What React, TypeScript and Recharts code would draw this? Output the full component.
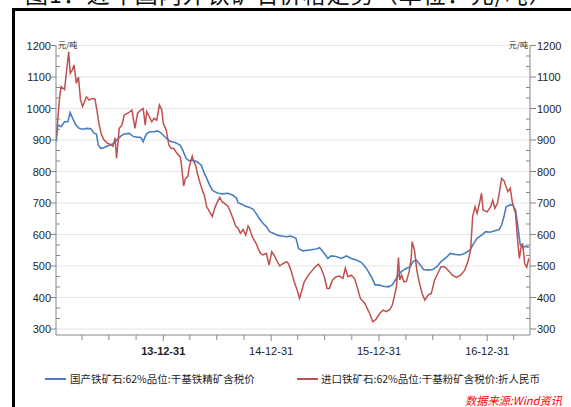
import React from 'react';
import { LineChart, Line, XAxis, YAxis, CartesianGrid } from 'recharts';

// 国产铁矿石:62%品位:干基铁精矿含税价 (元/吨)
const domesticDates = [
  '2013-01-03','2013-01-08','2013-01-19','2013-01-31','2013-02-11','2013-02-19','2013-02-27','2013-03-10','2013-03-21','2013-04-02',
  '2013-04-15','2013-04-30','2013-05-11','2013-05-19','2013-05-25','2013-06-03','2013-06-14','2013-06-25','2013-07-12','2013-07-29',
  '2013-08-10','2013-08-21','2013-09-07','2013-09-21','2013-10-05','2013-10-16','2013-10-24','2013-11-03','2013-11-14','2013-11-30',
  '2013-12-12','2013-12-23','2014-01-04','2014-01-15','2014-01-26','2014-02-09','2014-02-26','2014-03-07','2014-03-18','2014-03-29',
  '2014-04-10','2014-04-24','2014-05-08','2014-05-19','2014-05-27','2014-06-06','2014-06-15','2014-06-23','2014-07-04','2014-07-21',
  '2014-08-07','2014-08-24','2014-09-05','2014-09-10','2014-09-21','2014-10-06','2014-10-19','2014-10-31','2014-11-10','2014-11-21',
  '2014-12-04','2014-12-15','2014-12-26','2015-01-07','2015-01-21','2015-02-05','2015-02-21','2015-03-08','2015-03-25','2015-04-03',
  '2015-04-17','2015-05-10','2015-06-02','2015-06-13','2015-06-24','2015-07-11','2015-07-22','2015-08-08','2015-08-25','2015-09-12',
  '2015-09-28','2015-10-15','2015-11-02','2015-11-18','2015-12-05','2015-12-18','2015-12-29','2016-01-14','2016-02-01','2016-02-14',
  '2016-02-28','2016-03-15','2016-04-02','2016-04-13','2016-04-24','2016-05-05','2016-05-16','2016-05-30','2016-06-14','2016-06-30',
  '2016-07-14','2016-07-28','2016-08-15','2016-08-28','2016-09-13','2016-09-30','2016-10-16','2016-11-03','2016-11-16','2016-11-27',
  '2016-12-12','2016-12-26','2017-01-10','2017-01-26','2017-02-10','2017-02-18','2017-02-26','2017-03-05','2017-03-19','2017-03-27',
  '2017-04-06','2017-04-14','2017-04-22','2017-05-01','2017-05-12','2017-05-21',
];
const domesticPrices = [
  895, 948, 942, 958, 958, 987, 969, 948, 937, 934,
  937, 936, 921, 919, 884, 873, 876, 881, 887, 902,
  913, 919, 921, 911, 909, 908, 895, 918, 926, 926,
  929, 923, 911, 902, 895, 892, 884, 868, 842, 834,
  836, 831, 821, 794, 778, 757, 741, 736, 731, 729,
  731, 725, 715, 701, 697, 690, 686, 680, 667, 651,
  635, 625, 609, 604, 598, 595, 593, 595, 588, 556,
  548, 551, 554, 558, 546, 524, 532, 530, 524, 532,
  524, 519, 511, 493, 466, 440, 440, 436, 434, 440,
  461, 482, 493, 496, 514, 519, 506, 489, 487, 489,
  498, 514, 527, 540, 537, 535, 540, 551, 572, 588,
  598, 609, 607, 612, 616, 630, 657, 688, 694, 694,
  678, 625, 567, 559, 563, 559,
];

// 进口铁矿石:62%品位:干基粉矿含税价:折人民币 (元/吨)
const importDates = [
  '2013-01-03','2013-01-14','2013-01-19','2013-01-31','2013-02-06','2013-02-14','2013-02-19','2013-02-26','2013-03-04','2013-03-12',
  '2013-03-19','2013-03-26','2013-04-02','2013-04-15','2013-04-24','2013-05-05','2013-05-14','2013-05-22','2013-05-27','2013-06-05',
  '2013-06-14','2013-06-25','2013-07-06','2013-07-14','2013-07-21','2013-07-26','2013-08-04','2013-08-13','2013-08-21','2013-09-02',
  '2013-09-16','2013-09-26','2013-10-05','2013-10-16','2013-10-24','2013-10-31','2013-11-05','2013-11-14','2013-11-22','2013-11-30',
  '2013-12-09','2013-12-18','2013-12-26','2013-12-31','2014-01-10','2014-01-19','2014-01-27','2014-02-04','2014-02-15','2014-02-26',
  '2014-03-02','2014-03-10','2014-03-16','2014-03-24','2014-03-29','2014-04-08','2014-04-13','2014-04-19','2014-04-27','2014-05-05',
  '2014-05-14','2014-05-19','2014-05-27','2014-06-06','2014-06-15','2014-06-23','2014-06-30','2014-07-10','2014-07-18','2014-07-26',
  '2014-08-07','2014-08-15','2014-08-24','2014-09-02','2014-09-10','2014-09-18','2014-09-27','2014-10-06','2014-10-14','2014-10-19',
  '2014-10-28','2014-11-10','2014-11-17','2014-11-25','2014-12-04','2014-12-15','2014-12-24','2015-01-02','2015-01-10','2015-01-18',
  '2015-01-29','2015-02-10','2015-02-21','2015-02-27','2015-03-08','2015-03-19','2015-03-31','2015-04-06','2015-04-11','2015-04-22',
  '2015-05-06','2015-05-20','2015-05-28','2015-06-09','2015-06-18','2015-06-29','2015-07-08','2015-07-16','2015-07-27','2015-08-08',
  '2015-08-19','2015-08-31','2015-09-08','2015-09-17','2015-09-28','2015-10-09','2015-10-18','2015-10-29','2015-11-13','2015-11-29',
  '2015-12-10','2015-12-21','2016-01-03','2016-01-14','2016-01-25','2016-02-06','2016-02-14','2016-02-22','2016-02-28','2016-03-06',
  '2016-03-10','2016-03-17','2016-03-24','2016-04-02','2016-04-11','2016-04-18','2016-04-21','2016-04-29','2016-05-07','2016-05-16',
  '2016-05-25','2016-06-03','2016-06-14','2016-06-25','2016-07-06','2016-07-17','2016-07-28','2016-08-09','2016-08-20','2016-09-05',
  '2016-09-18','2016-10-02','2016-10-16','2016-10-27','2016-11-05','2016-11-12','2016-11-20','2016-11-27','2016-12-06','2016-12-12',
  '2016-12-17','2016-12-31','2017-01-12','2017-01-19','2017-01-26','2017-02-04','2017-02-10','2017-02-18','2017-02-26','2017-03-05',
  '2017-03-11','2017-03-19','2017-03-27','2017-04-06','2017-04-14','2017-04-19','2017-04-25','2017-04-30','2017-05-07','2017-05-14',
  '2017-05-21',
];
const importPrices = [
  910, 1032, 1069, 1060, 1112, 1180, 1112, 1122, 1138, 1080,
  1100, 1027, 1006, 1037, 1027, 1032, 1030, 985, 953, 916,
  900, 890, 885, 880, 907, 842, 937, 947, 979, 985,
  995, 937, 985, 995, 1000, 947, 990, 974, 958, 969,
  963, 1011, 995, 953, 931, 884, 873, 874, 858, 847,
  826, 754, 778, 784, 815, 849, 831, 821, 789, 762,
  736, 725, 688, 672, 657, 683, 699, 718, 704, 699,
  690, 672, 651, 627, 620, 604, 616, 598, 627, 620,
  593, 572, 556, 540, 535, 540, 503, 545, 535, 519,
  500, 508, 514, 508, 487, 450, 418, 397, 413, 450,
  471, 487, 496, 506, 493, 466, 429, 429, 456, 466,
  468, 461, 493, 466, 471, 461, 434, 397, 381, 350,
  323, 331, 350, 360, 355, 362, 376, 408, 434, 527,
  456, 471, 450, 452, 482, 524, 577, 551, 487, 445,
  413, 392, 408, 413, 455, 477, 498, 498, 487, 471,
  464, 471, 487, 514, 551, 657, 688, 667, 704, 731,
  678, 672, 688, 709, 683, 699, 731, 778, 771, 752,
  736, 747, 699, 667, 572, 524, 561, 572, 508, 496,
  524,
];

const seriesNames = ['国产铁矿石:62%品位:干基铁精矿含税价', '进口铁矿石:62%品位:干基粉矿含税价:折人民币'];
const titleText = '图1：近年国内外铁矿石价格走势（单位：元/吨）';
const unitLabel = '元/吨';
const sourceText = '数据来源:Wind资讯';

const yMajorTicks = [300, 400, 500, 600, 700, 800, 900, 1000, 1100, 1200];
const yDomain = [281, 1200];
const xDomainDates = ['2013-01-02', '2017-05-25'];
const xQuarterTicks = [
  '2013-03-31','2013-06-30','2013-09-30','2013-12-31',
  '2014-03-31','2014-06-30','2014-09-30','2014-12-31',
  '2015-03-31','2015-06-30','2015-09-30','2015-12-31',
  '2016-03-31','2016-06-30','2016-09-30','2016-12-31',
  '2017-03-31',
];
const xYearTicks = ['2013-12-31', '2014-12-31', '2015-12-31', '2016-12-31'];
const xYearLabels = ['13-12-31', '14-12-31', '15-12-31', '16-12-31'];

const BLUE = '#4a7ebf';
const RED = '#c0504d';
const AXIS = '#868686';
const TEXT = '#1e1e1e';
const NUM_FONT = '"Liberation Sans", Arial, sans-serif';
const CJK_FONT = '"Noto Sans CJK SC", "Noto Sans", sans-serif';

const domesticData = domesticDates.map((d, i) => ({ t: Date.parse(d), v: domesticPrices[i] }));
const importData = importDates.map((d, i) => ({ t: Date.parse(d), v: importPrices[i] }));

const yTicks: number[] = [];
yMajorTicks.forEach((v, i) => {
  yTicks.push(v);
  if (i < yMajorTicks.length - 1) {
    const step = (yMajorTicks[i + 1] - v) / 3;
    yTicks.push(v + step, v + 2 * step);
  }
});
const isMajor = (v: number) => yMajorTicks.some((m) => Math.abs(m - v) < 1e-6);

const LeftTick = (props: any) => {
  const { x, y, payload } = props;
  const v = payload.value;
  const major = isMajor(v);
  return (
    <g>
      {major ? (
        <line x1={x - 5} x2={x} y1={y} y2={y} stroke={AXIS} strokeWidth={1} />
      ) : (
        <line x1={x} x2={x + 4} y1={y} y2={y} stroke={AXIS} strokeWidth={1} />
      )}
      {major && (
        <text x={x - 5} y={y} dy={4} textAnchor="end" fontSize={11} fontFamily={NUM_FONT} fill={TEXT}>
          {Math.round(v)}
        </text>
      )}
      {Math.abs(v - 1200) < 1e-6 && (
        <text x={x + 2} y={y + 2} fontSize={8} fontFamily={CJK_FONT} fill={TEXT}>
          {unitLabel}
        </text>
      )}
    </g>
  );
};

const RightTick = (props: any) => {
  const { x, y, payload } = props;
  const v = payload.value;
  const major = isMajor(v);
  return (
    <g>
      {major ? (
        <line x1={x} x2={x + 6} y1={y} y2={y} stroke={AXIS} strokeWidth={1} />
      ) : (
        <line x1={x - 4} x2={x} y1={y} y2={y} stroke={AXIS} strokeWidth={1} />
      )}
      {major && (
        <text x={x + 7} y={y} dy={4} textAnchor="start" fontSize={11} fontFamily={NUM_FONT} fill={TEXT}>
          {Math.round(v)}
        </text>
      )}
      {Math.abs(v - 1200) < 1e-6 && (
        <text x={x - 2} y={y + 2} textAnchor="end" fontSize={8} fontFamily={CJK_FONT} fill={TEXT}>
          {unitLabel}
        </text>
      )}
    </g>
  );
};

const BottomTick = (props: any) => {
  const { x, y, payload } = props;
  const idx = xYearTicks.findIndex((d) => Date.parse(d) === payload.value);
  const major = idx >= 0;
  return (
    <g>
      <line x1={x} x2={x} y1={y} y2={y + (major ? 6 : 5)} stroke={AXIS} strokeWidth={1} />
      {major && (
        <text
          x={x}
          y={y + 20}
          textAnchor="middle"
          fontSize={11}
          fontFamily={NUM_FONT}
          fontWeight={idx === 0 ? 'bold' : 'normal'}
          fill={TEXT}
        >
          {xYearLabels[idx]}
        </text>
      )}
    </g>
  );
};

export default function App() {
  return (
    <div
      style={{
        position: 'absolute',
        left: 0,
        top: 0,
        width: 571,
        height: 407,
        overflow: 'hidden',
        background: '#ffffff',
      }}
    >
      {/* title, clipped by the top edge as in the reference */}
      <div
        style={{
          position: 'absolute',
          left: 25,
          top: -18,
          fontSize: 23,
          lineHeight: '23px',
          letterSpacing: 1,
          fontFamily: CJK_FONT,
          color: '#111',
          whiteSpace: 'nowrap',
        }}
      >
        {titleText}
      </div>
      {/* frame */}
      <div style={{ position: 'absolute', left: 12, top: 8, width: 600, height: 2.5, background: '#000' }} />
      <div style={{ position: 'absolute', left: 12, top: 8, width: 2.5, height: 420, background: '#000' }} />

      <div style={{ position: 'absolute', left: 0, top: 0 }}>
        <LineChart width={571} height={407} margin={{ top: 45.5, right: 0, bottom: 42, left: 0 }}>
          <CartesianGrid horizontal vertical={false} horizontalValues={yMajorTicks} stroke="#e6e6e6" />
          <XAxis
            dataKey="t"
            type="number"
            scale="time"
            domain={xDomainDates.map((d) => Date.parse(d))}
            allowDataOverflow
            ticks={xQuarterTicks.map((d) => Date.parse(d))}
            interval={0}
            height={30}
            tickSize={0}
            tickMargin={0}
            tickLine={false}
            axisLine={{ stroke: AXIS }}
            tick={<BottomTick />}
          />
          <YAxis
            yAxisId={0}
            orientation="left"
            width={56}
            domain={yDomain}
            allowDataOverflow
            ticks={yTicks}
            interval={0}
            tickSize={0}
            tickMargin={0}
            tickLine={false}
            axisLine={{ stroke: AXIS }}
            tick={<LeftTick />}
          />
          <YAxis
            yAxisId="right"
            orientation="right"
            width={41}
            domain={yDomain}
            allowDataOverflow
            ticks={yTicks}
            interval={0}
            tickSize={0}
            tickMargin={0}
            tickLine={false}
            axisLine={{ stroke: AXIS }}
            tick={<RightTick />}
          />
          <Line
            data={domesticData}
            dataKey="v"
            name={seriesNames[0]}
            stroke={BLUE}
            strokeWidth={1.6}
            dot={false}
            isAnimationActive={false}
            yAxisId={0}
          />
          <Line
            data={importData}
            dataKey="v"
            name={seriesNames[1]}
            stroke={RED}
            strokeWidth={1.5}
            dot={false}
            isAnimationActive={false}
            yAxisId={0}
          />
        </LineChart>
      </div>

      {/* legend */}
      <div style={{ position: 'absolute', left: 45, top: 378, width: 21, height: 2, background: BLUE }} />
      <div
        style={{
          position: 'absolute',
          left: 70,
          top: 371,
          fontSize: 10.5,
          lineHeight: '16px',
          fontFamily: CJK_FONT,
          color: TEXT,
          whiteSpace: 'nowrap',
        }}
      >
        {seriesNames[0]}
      </div>
      <div style={{ position: 'absolute', left: 297, top: 378, width: 21, height: 2, background: RED }} />
      <div
        style={{
          position: 'absolute',
          left: 321,
          top: 371,
          fontSize: 10.5,
          lineHeight: '16px',
          fontFamily: CJK_FONT,
          color: TEXT,
          whiteSpace: 'nowrap',
        }}
      >
        {seriesNames[1]}
      </div>
      {/* source */}
      <div
        style={{
          position: 'absolute',
          left: 465,
          top: 392,
          fontSize: 11.2,
          lineHeight: '16px',
          fontFamily: CJK_FONT,
          fontStyle: 'italic',
          color: '#ff0000',
          whiteSpace: 'nowrap',
        }}
      >
        {sourceText}
      </div>
    </div>
  );
}
